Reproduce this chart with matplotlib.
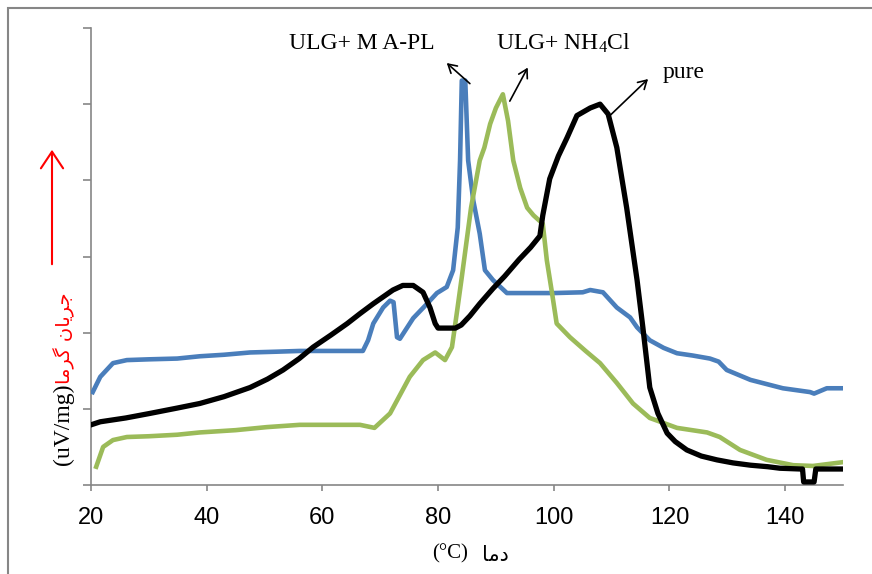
import matplotlib
matplotlib.use("Agg")
import matplotlib.pyplot as plt
from matplotlib.patches import Rectangle, FancyArrowPatch

plt.rcParams['mathtext.fontset'] = 'custom'
plt.rcParams['mathtext.rm'] = 'Liberation Serif'
plt.rcParams['mathtext.it'] = 'Liberation Serif:italic'

# ---------------- data ----------------
pure_T = [20, 21.6, 26, 30.2, 34.9, 38.8, 43, 47.5, 50.5, 53.2, 56, 58.4, 61.5, 64.3, 66.5,
          68.8, 70.5, 72.2, 73.9, 75.7, 77.4, 78.6, 79.5, 80, 81.5, 83, 84, 85.5, 87.2, 89.5,
          91.5, 94, 96, 97.6, 98.1, 99.3, 100.8, 102.3, 104, 106.3, 108, 109.4, 110.9, 112.6,
          114.4, 115.4, 116.6, 118, 119.6, 121, 123, 125.5, 128.2, 131, 134, 137, 139.1, 142.6,
          143.0, 143.2, 145.0, 145.3, 147, 150]
pure_v = [0.79, 0.83, 0.88, 0.94, 1.01, 1.07, 1.16, 1.28, 1.39, 1.51, 1.66, 1.81, 1.97, 2.12, 2.25,
          2.38, 2.47, 2.56, 2.62, 2.62, 2.53, 2.33, 2.12, 2.06, 2.06, 2.06, 2.10, 2.22, 2.38, 2.58,
          2.74, 2.96, 3.12, 3.27, 3.54, 4.02, 4.32, 4.56, 4.85, 4.95, 5.0, 4.87, 4.43, 3.64,
          2.69, 2.07, 1.28, 0.94, 0.68, 0.57, 0.46, 0.38, 0.33, 0.29, 0.26, 0.24, 0.22, 0.21,
          0.21, 0.04, 0.04, 0.21, 0.21, 0.21]

mapl_T = [20.3, 21.6, 23.8, 26.2, 30, 34.9, 38.8, 43, 47.5, 52, 56.1, 60, 64, 67, 67.9, 68.8,
          70.5, 71.7, 72.3, 72.9, 73.4, 75.7, 78.1, 79.8, 81.5, 82.6, 83.4, 83.8, 84.1, 84.7,
          85.2, 86.1, 87.2, 88.1, 89.5, 91.9, 95, 100, 105, 106.3, 108.5, 110.9, 113.2, 114.4,
          116.6, 119, 121.3, 124, 127, 128.5, 129.9, 134, 139.6, 144.3, 145, 147.2, 150]
mapl_v = [1.22, 1.42, 1.60, 1.64, 1.65, 1.66, 1.69, 1.71, 1.74, 1.75, 1.76, 1.76, 1.76, 1.76, 1.90, 2.12,
          2.33, 2.42, 2.40, 1.94, 1.92, 2.19, 2.38, 2.52, 2.60, 2.82, 3.38, 4.26, 5.31, 5.31,
          4.26, 3.73, 3.30, 2.82, 2.69, 2.52, 2.52, 2.52, 2.53, 2.56, 2.53, 2.33, 2.20, 2.07,
          1.90, 1.80, 1.73, 1.70, 1.66, 1.62, 1.51, 1.38, 1.27, 1.22, 1.20, 1.27, 1.27]

nh4_T = [20.9, 22.1, 23.8, 26.2, 30, 34.9, 38.8, 45, 50.4, 56.1, 60, 64, 66.5, 69, 71.7, 73.4,
         75.1, 77.4, 79.5, 81.2, 82.4, 83.3, 84.1, 85.7, 87.2, 88.0, 89, 90.0, 91.2, 92.1, 93,
         94.2, 95.4, 96.5, 98.1, 98.8, 99.7, 100.5, 102.8, 105.5, 108, 110.9, 113.7, 116.6,
         121.3, 126.5, 128.7, 132.2, 136.8, 141.4, 144.8, 150]
nh4_v = [0.24, 0.50, 0.59, 0.63, 0.64, 0.66, 0.69, 0.72, 0.76, 0.79, 0.79, 0.79, 0.79, 0.75, 0.94, 1.18,
         1.42, 1.64, 1.74, 1.64, 1.81, 2.29, 2.73, 3.64, 4.26, 4.43, 4.74, 4.95, 5.13, 4.78, 4.26,
         3.90, 3.64, 3.54, 3.43, 2.95, 2.52, 2.12, 1.94, 1.76, 1.60, 1.34, 1.07, 0.88,
         0.75, 0.69, 0.63, 0.46, 0.33, 0.26, 0.25, 0.30]

x_ticks = [20, 40, 60, 80, 100, 120, 140]
y_ticks = [0, 1, 2, 3, 4, 5, 6]

# ---------------- figure ----------------
W, H = 872, 574
fig = plt.figure(figsize=(W / 100, H / 100), dpi=100)
ax = fig.add_axes([91 / W, 1 - 485 / H, 752 / W, 457 / H])

ax.plot(mapl_T, mapl_v, color='#4a7ebb', lw=3.3, solid_joinstyle='round', zorder=3)
ax.plot(nh4_T, nh4_v, color='#9bbb59', lw=3.3, solid_joinstyle='round', zorder=3)
ax.plot(pure_T, pure_v, color='black', lw=3.8, solid_joinstyle='round', zorder=4)

ax.set_xlim(20, 150)
ax.set_ylim(0, 6)
ax.set_xticks(x_ticks)
ax.set_yticks(y_ticks)
ax.set_yticklabels([])
for s in ['top', 'right']:
    ax.spines[s].set_visible(False)
for s in ['left', 'bottom']:
    ax.spines[s].set_color('#868686')
    ax.spines[s].set_linewidth(1.2)
ax.tick_params(axis='x', length=4, width=1.2, color='#868686', pad=12,
               labelsize=17, labelfontfamily='Liberation Sans')
ax.tick_params(axis='y', length=6, width=1.2, color='#868686')

serif = 'Liberation Serif'
# annotations
ax.text(66.8, 5.80, 'ULG+ M A-PL', fontsize=17, family=serif, ha='center', va='center')
ax.text(101.6, 5.80, 'ULG+ NH$_4$Cl', fontsize=17, family=serif, ha='center', va='center')
ax.text(118.9, 5.41, 'pure', fontsize=17, family=serif, ha='left', va='center')

for (x0, y0), (x1, y1) in [((85.5, 5.27), (81.5, 5.54)),
                           ((92.4, 5.04), (95.5, 5.48)),
                           ((109.7, 4.85), (116.3, 5.33))]:
    ax.annotate('', xy=(x1, y1), xytext=(x0, y0),
                arrowprops=dict(arrowstyle='->,head_length=0.6,head_width=0.35',
                                color='black', lw=1.2, shrinkA=0, shrinkB=0),
                annotation_clip=False)

# axis labels
fig.text(450 / W, 1 - 554 / H, '(°C)', fontsize=15, family=serif, ha='center', va='center')
fig.text(495 / W, 1 - 555 / H, '\uFE8E\uFEE3\uFEA9', fontsize=15,
         family=['DejaVu Sans'], ha='center', va='center')

fig.text(63 / W, 1 - 465 / H, '(uV/mg)', fontsize=17, family=serif, rotation=90,
         ha='center', va='bottom')
fig.text(64 / W, 1 - 384 / H, '\uFE8E\uFEE3\uFEAE\uFB94 \uFEE5\uFE8E\uFBFE\uFEAE\uFE9F',
         fontsize=14, family=['DejaVu Sans'], color='red', rotation=90,
         ha='center', va='bottom')

arr = FancyArrowPatch((52 / W, 1 - 267 / H), (52 / W, 1 - 147 / H),
                      transform=fig.transFigure,
                      arrowstyle='->,head_length=6,head_width=4', color='red', lw=1.5,
                      mutation_scale=2)
fig.patches.append(arr)

frame = Rectangle((8 / W, -0.05), 1.2, 1 - 8 / H + 0.05, transform=fig.transFigure,
                  fill=False, edgecolor='#868686', lw=1.5)
fig.patches.append(frame)

fig.savefig('out.png', dpi=100)
